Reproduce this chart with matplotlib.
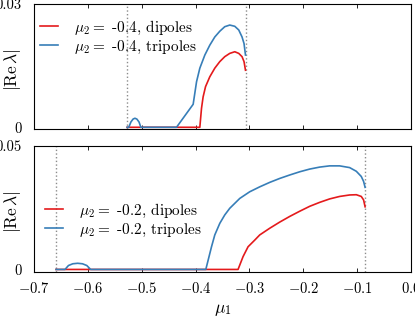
import numpy as np
import matplotlib
matplotlib.use("Agg")
import matplotlib.pyplot as plt

plt.rcParams["font.family"] = "serif"
plt.rcParams["font.serif"] = ["cmr10", "DejaVu Serif"]
plt.rcParams["mathtext.fontset"] = "cm"
plt.rcParams["axes.formatter.use_mathtext"] = True
plt.rcParams["axes.unicode_minus"] = True

RED = "#e41a1c"
BLUE = "#377eb8"

# mu2 = -0.4 panel
top_lims = [-0.527, -0.3067]
top_dip_x = [-0.527, -0.392, -0.3889, -0.3859, -0.3814, -0.3735, -0.3642, -0.3549,
             -0.3457, -0.3364, -0.3271, -0.3197, -0.3136, -0.3099, -0.3072]
top_dip_y = [0.0, 0.0, 0.0046, 0.0074, 0.0099, 0.0123, 0.0144, 0.0160,
             0.0172, 0.0180, 0.0184, 0.0180, 0.0172, 0.0160, 0.0139]
top_tri_x = [-0.527, -0.524, -0.520, -0.516, -0.5126, -0.509, -0.505, -0.5015,
             -0.4353, -0.4044, -0.3981, -0.392, -0.3827, -0.3735, -0.3642,
             -0.3549, -0.3457, -0.3364, -0.3271, -0.3197, -0.3136, -0.3099, -0.3072]
top_tri_y = [0.0, 0.0, 0.0013, 0.0020, 0.0022, 0.0020, 0.0013, 0.0,
             0.0, 0.0056, 0.0111, 0.0144, 0.0176, 0.0200, 0.0220,
             0.0234, 0.0245, 0.0249, 0.0246, 0.0237, 0.0220, 0.0204, 0.0176]

# mu2 = -0.2 panel
bot_lims = [-0.659, -0.0846]
bot_dip_x = [-0.659, -0.321, -0.3117, -0.3024, -0.2900, -0.2807, -0.2622, -0.2436,
             -0.2250, -0.2065, -0.1879, -0.1694, -0.1508, -0.1323, -0.1137,
             -0.1013, -0.0921, -0.0878, -0.0850]
bot_dip_y = [0.0, 0.0, 0.0052, 0.0092, 0.0119, 0.0140, 0.0167, 0.0192,
             0.0215, 0.0236, 0.0256, 0.0272, 0.0286, 0.0296, 0.0302,
             0.0303, 0.0296, 0.0282, 0.0254]
bot_tri_x = [-0.659, -0.6425, -0.636, -0.628, -0.619, -0.610, -0.602, -0.5948,
             -0.3809, -0.3703, -0.3642, -0.3549, -0.3457, -0.3364, -0.3178,
             -0.2993, -0.2807, -0.2622, -0.2436, -0.2250, -0.2065, -0.1879,
             -0.1694, -0.1508, -0.1323, -0.1137, -0.1013, -0.0921, -0.0878, -0.0850]
bot_tri_y = [0.0, 0.0, 0.0016, 0.0023, 0.0025, 0.0023, 0.0016, 0.0,
             0.0, 0.0092, 0.0140, 0.0187, 0.0221, 0.0248, 0.0288,
             0.0315, 0.0335, 0.0353, 0.0369, 0.0383, 0.0396, 0.0407,
             0.0415, 0.0420, 0.0420, 0.0413, 0.0398, 0.0377, 0.0357, 0.0333]

xticks = [-0.7, -0.6, -0.5, -0.4, -0.3, -0.2, -0.1, 0.0]

fig = plt.figure(figsize=(4.15, 3.17), dpi=100)
ax1 = fig.add_axes([0.082, 0.592, 0.908, 0.395])
ax2 = fig.add_axes([0.082, 0.143, 0.908, 0.396])


def style(ax, ymax, ylow, show_x, ylab_y):
    ax.set_xlim(-0.7, 0)
    ax.set_ylim(ylow, ymax)
    ax.set_xticks(xticks)
    ax.set_yticks([0, ymax])
    ax.set_yticklabels(["0", f"{ymax:g}"])
    ax.tick_params(axis="x", direction="in", top=True, labelsize=10.5,
                   length=3, width=0.6, pad=6.5)
    ax.tick_params(axis="y", left=False, right=False, labelsize=10.5, pad=5.5)
    if not show_x:
        ax.tick_params(labelbottom=False)
    for s in ax.spines.values():
        s.set_linewidth(0.8)
    ax.set_ylabel(r"$|\mathrm{Re}\,\lambda|$", fontsize=12.5)
    ax.yaxis.set_label_coords(-0.03, ylab_y)


for ax, lims, dx, dy, tx, ty, mu2, anchor in [
    (ax1, top_lims, top_dip_x, top_dip_y, top_tri_x, top_tri_y, "-0.4", (0.016, 0.737)),
    (ax2, bot_lims, bot_dip_x, bot_dip_y, bot_tri_x, bot_tri_y, "-0.2", (0.029, 0.411)),
]:
    for xv in lims:
        ax.axvline(xv, color="0.55", linestyle=":", linewidth=1.0)
    ax.plot(dx, dy, color=RED, linewidth=1.2, label=r"$\mu_2 =$ " + mu2 + ", dipoles")
    ax.plot(tx, ty, color=BLUE, linewidth=1.2, label=r"$\mu_2 =$ " + mu2 + ", tripoles")
    ax.legend(loc="center left", bbox_to_anchor=anchor, frameon=False, fontsize=11,
              handlelength=1.18, handletextpad=1.05, borderpad=0, borderaxespad=0,
              labelspacing=0.12)

style(ax1, 0.03, -0.0005, False, 0.48)
style(ax2, 0.05, -0.0009, True, 0.475)
ax2.set_xlabel(r"$\mu_1$", fontsize=12.5, labelpad=4.5)

fig.savefig("out.png", dpi=100)
